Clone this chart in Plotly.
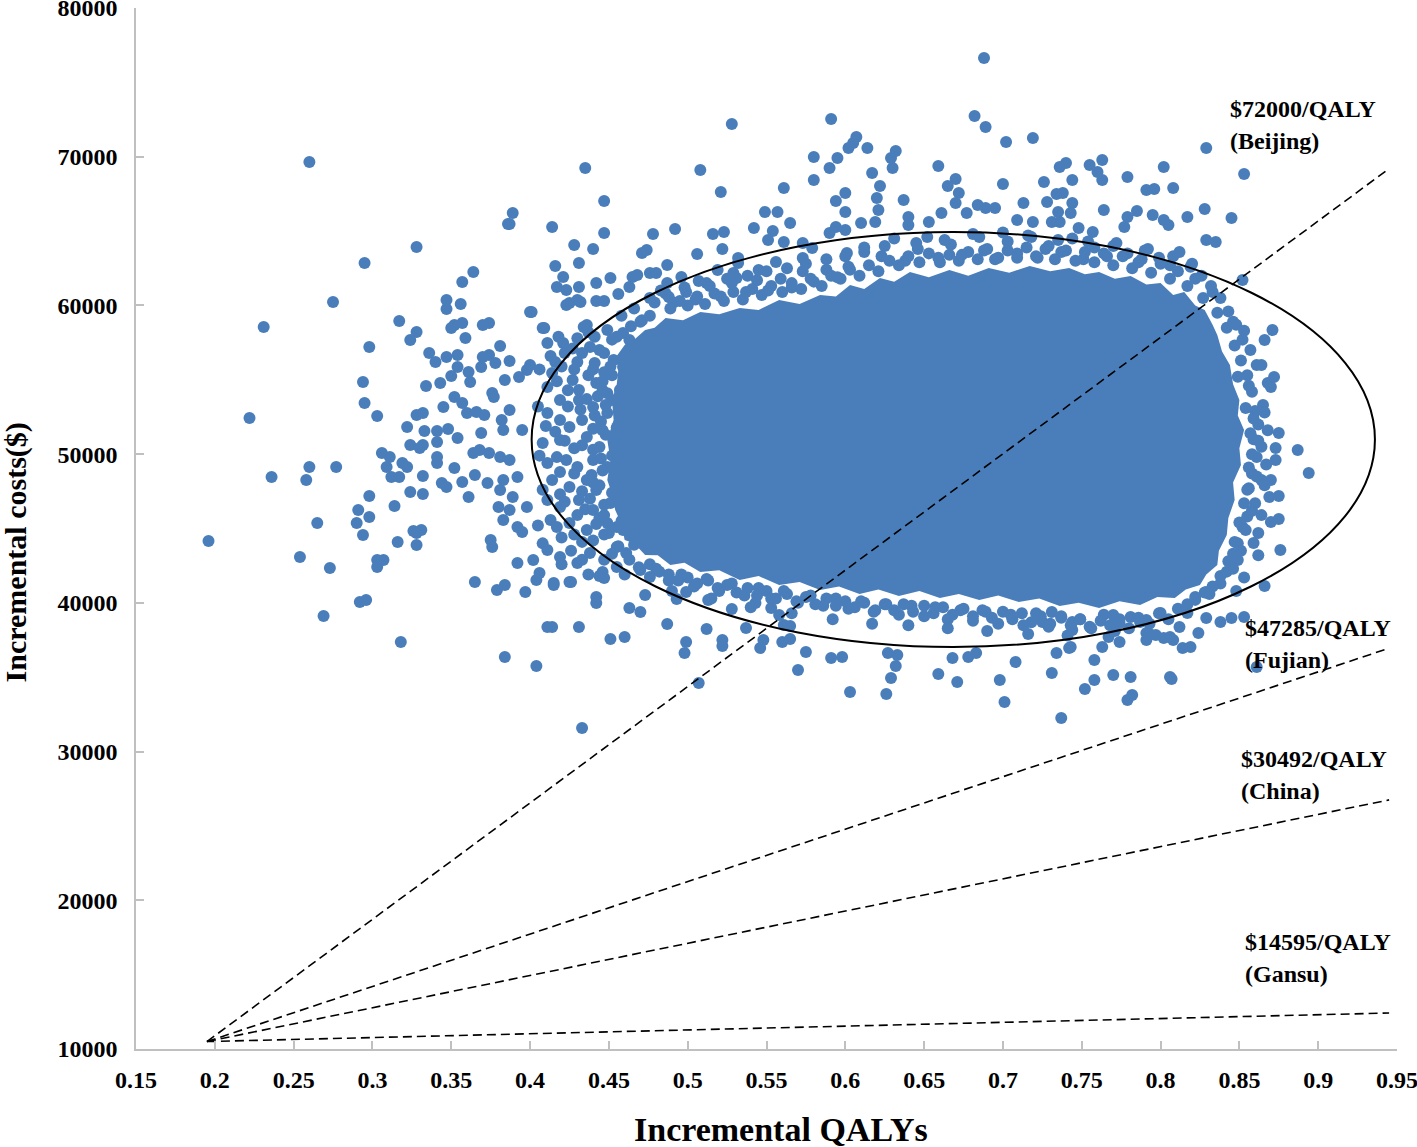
import plotly.graph_objects as go

# Incremental cost-effectiveness plane
# (qaly, cost) pairs, grouped by where they sit around the dense cloud

far_left_pts = [
    (0.260, 69650), (0.231, 58550), (0.222, 52430), (0.236, 48460), (0.196, 44160),
    (0.254, 43080), (0.260, 49130), (0.258, 48260), (0.265, 45370), (0.273, 42340),
    (0.269, 39120), (0.275, 60230), (0.277, 49130), (0.295, 62850), (0.294, 54850),
    (0.295, 53440), (0.298, 57200), (0.291, 46240), (0.290, 45370), (0.298, 47180),
    (0.298, 45770), (0.294, 44560), (0.292, 40060), (0.296, 40190), (0.303, 52560),
    (0.303, 42880), (0.307, 42880), (0.303, 42410), (0.306, 50080), (0.311, 49810),
    (0.309, 49130), (0.312, 48460), (0.314, 46510), (0.317, 58950), (0.318, 37370),
    (0.316, 44090), (0.319, 49400), (0.322, 49130), (0.317, 48460), (0.324, 47450),
]

left_pts = [
    (0.387, 65470), (0.328, 63930), (0.364, 62250), (0.357, 61570), (0.347, 60360),
    (0.347, 59760), (0.356, 60090), (0.352, 58680), (0.357, 58820), (0.350, 58480),
    (0.328, 58210), (0.324, 57670), (0.359, 57810), (0.370, 58680), (0.374, 58820),
    (0.400, 59560), (0.408, 58480), (0.381, 57270), (0.336, 56800), (0.340, 56190),
    (0.347, 56530), (0.354, 56670), (0.354, 55860), (0.370, 56530), (0.374, 56670),
    (0.369, 55860), (0.378, 56130), (0.387, 56260), (0.361, 55520), (0.362, 54850),
    (0.350, 55250), (0.343, 54780), (0.334, 54580), (0.376, 54110), (0.377, 53840),
    (0.384, 54980), (0.398, 55660), (0.400, 55990), (0.393, 55190), (0.328, 52630),
    (0.332, 52760), (0.345, 53170), (0.352, 53840), (0.357, 53440), (0.360, 52760),
    (0.366, 52830), (0.371, 52630), (0.322, 51820), (0.333, 51550), (0.341, 51550),
    (0.348, 51690), (0.354, 51080), (0.369, 51420), (0.382, 52290), (0.387, 52970),
    (0.395, 51620), (0.383, 51620), (0.324, 50610), (0.330, 50410), (0.332, 50610),
    (0.341, 50820), (0.341, 49810), (0.341, 49400), (0.332, 48530), (0.352, 49070),
    (0.364, 50080), (0.368, 50280), (0.374, 50080), (0.381, 49810), (0.387, 49600),
    (0.344, 48060), (0.347, 47790), (0.357, 48130), (0.365, 48600), (0.373, 48060),
    (0.383, 48260), (0.392, 48460), (0.381, 47590), (0.389, 47120), (0.332, 47320),
    (0.361, 47120), (0.380, 46440), (0.387, 46240), (0.398, 46440), (0.383, 45570),
    (0.392, 45100), (0.395, 44760), (0.328, 44700), (0.326, 44830), (0.331, 44900),
    (0.328, 43890), (0.375, 44230), (0.376, 43760), (0.392, 42680), (0.402, 42880),
    (0.406, 42010), (0.404, 41540), (0.365, 41400), (0.379, 40860), (0.384, 41200),
    (0.397, 40730), (0.411, 38380), (0.384, 36360), (0.404, 35750), (0.433, 31580),
]

left_band_pts = [
    (0.425, 60160), (0.432, 60230), (0.409, 58480), (0.434, 58550), (0.411, 57470),
    (0.421, 57470), (0.422, 56800), (0.433, 56800), (0.438, 57200), (0.444, 57000),
    (0.449, 58350), (0.459, 58140), (0.463, 57670), (0.441, 56130), (0.453, 56330),
    (0.459, 55860), (0.414, 55460), (0.411, 54510), (0.427, 54980), (0.431, 54310),
    (0.442, 54780), (0.419, 53640), (0.431, 53640), (0.440, 53170), (0.452, 53640),
    (0.457, 54310), (0.411, 52760), (0.419, 52290), (0.425, 51820), (0.433, 52290),
    (0.449, 52760), (0.461, 52500), (0.408, 50750), (0.419, 50950), (0.436, 51150),
    (0.444, 50480), (0.455, 50950), (0.465, 51420), (0.411, 49400), (0.423, 49600),
    (0.430, 49130), (0.440, 49600), (0.449, 49130), (0.461, 49810), (0.414, 48260),
    (0.425, 47790), (0.436, 48260), (0.442, 47590), (0.455, 48260), (0.465, 47790),
    (0.411, 46920), (0.419, 46440), (0.431, 46920), (0.440, 46240), (0.451, 46710),
    (0.461, 46040), (0.413, 45570), (0.425, 45370), (0.436, 44900), (0.449, 45370),
    (0.459, 44900), (0.468, 45570), (0.411, 43550), (0.419, 43080), (0.430, 42680),
    (0.438, 43350), (0.455, 43750), (0.461, 43350), (0.470, 44230), (0.415, 41330),
    (0.425, 41400), (0.446, 42070), (0.455, 42410), (0.470, 42210), (0.476, 41740),
    (0.442, 40390), (0.416, 56200), (0.428, 55700), (0.437, 55300), (0.446, 54300),
    (0.424, 53200), (0.445, 52200), (0.416, 51500), (0.428, 50400), (0.440, 51700),
    (0.452, 49900), (0.419, 48800), (0.433, 47500), (0.446, 48900), (0.419, 47300),
    (0.430, 45900), (0.444, 45700), (0.455, 45100), (0.420, 44400), (0.433, 44100),
    (0.447, 44600), (0.426, 43500), (0.447, 42900), (0.437, 41900), (0.460, 41900),
    (0.455, 57900), (0.437, 58200), (0.427, 57100), (0.447, 55500), (0.432, 53000),
    (0.455, 51800), (0.405, 53200), (0.417, 54900), (0.424, 54300), (0.436, 53700),
    (0.449, 54100), (0.410, 51900), (0.422, 50900), (0.433, 50600), (0.448, 51300),
    (0.458, 50300), (0.406, 49900), (0.417, 49800), (0.428, 48700), (0.440, 48100),
    (0.452, 47400), (0.408, 47600), (0.422, 46800), (0.435, 46300), (0.447, 45900),
    (0.458, 45500), (0.405, 45200), (0.417, 45100), (0.428, 44600), (0.440, 44200),
    (0.452, 43300), (0.408, 44000), (0.420, 42600), (0.433, 42900), (0.444, 41800),
    (0.466, 43900), (0.418, 57900), (0.430, 57800), (0.441, 57900), (0.413, 56600),
    (0.430, 56200), (0.440, 55700), (0.452, 55300), (0.420, 55900), (0.406, 55700),
    (0.458, 53000),
]

top_pts = [
    (0.528, 72200), (0.591, 72530), (0.435, 69240), (0.508, 69100), (0.521, 67620),
    (0.580, 69980), (0.590, 69240), (0.595, 69910), (0.602, 70580), (0.607, 71320),
    (0.605, 70920), (0.614, 70580), (0.580, 68430), (0.617, 68900), (0.561, 67890),
    (0.594, 67020), (0.600, 67560), (0.600, 66280), (0.389, 66210), (0.386, 65470),
    (0.447, 67020), (0.414, 65270), (0.447, 64870), (0.428, 64060), (0.440, 63790),
    (0.431, 62850), (0.478, 64800), (0.492, 65140), (0.516, 64800), (0.523, 64940),
    (0.522, 63790), (0.549, 66280), (0.557, 66280), (0.542, 65200), (0.554, 65000),
    (0.551, 64400), (0.565, 65540), (0.561, 64260), (0.506, 63460), (0.471, 63520),
    (0.474, 63720), (0.487, 62720), (0.532, 63190), (0.532, 62850), (0.556, 62920),
    (0.573, 64200), (0.579, 63860), (0.573, 63190), (0.590, 64870), (0.594, 65270),
    (0.600, 65070), (0.601, 63520), (0.610, 65540), (0.416, 62650), (0.421, 61910),
    (0.417, 61240), (0.423, 61040), (0.431, 61240), (0.430, 60360), (0.423, 60030),
    (0.401, 59560), (0.436, 58680), (0.442, 61510), (0.451, 61840), (0.456, 60770),
    (0.442, 60300), (0.447, 60300), (0.465, 61910), (0.468, 62050), (0.463, 61240),
    (0.476, 62180), (0.480, 62180), (0.487, 61510), (0.488, 60570), (0.496, 61910),
    (0.507, 61640), (0.545, 62380), (0.529, 62180), (0.531, 61840), (0.519, 62380),
    (0.688, 76640), (0.682, 72740), (0.689, 72000), (0.702, 70990), (0.719, 71260),
    (0.829, 70580), (0.853, 68840), (0.632, 70380), (0.629, 69910), (0.630, 69240),
    (0.622, 68030), (0.620, 67220), (0.621, 66410), (0.619, 65610), (0.637, 67090),
    (0.659, 69370), (0.670, 68500), (0.665, 68030), (0.672, 67560), (0.670, 66890),
    (0.677, 66210), (0.640, 65940), (0.640, 65410), (0.653, 65610), (0.661, 66210),
    (0.700, 68160), (0.684, 66750), (0.689, 66550), (0.695, 66550), (0.713, 66890),
    (0.709, 65740), (0.719, 65610), (0.726, 68300), (0.728, 66950), (0.734, 67490),
    (0.738, 67560), (0.744, 68430), (0.744, 66890), (0.743, 66210), (0.735, 66280),
    (0.731, 65610), (0.736, 65610), (0.736, 69310), (0.740, 69580), (0.755, 69440),
    (0.760, 68970), (0.763, 69780), (0.763, 68430), (0.779, 68630), (0.802, 69310),
    (0.791, 67760), (0.796, 67830), (0.808, 67890), (0.764, 66410), (0.757, 64940),
    (0.748, 65200), (0.785, 66350), (0.779, 65940), (0.777, 65270), (0.795, 66080),
    (0.802, 65740), (0.805, 65410), (0.817, 65940), (0.828, 66480), (0.845, 65880),
    (0.829, 64400), (0.835, 64260), (0.852, 61710),
]

top_band_pts = [
    (0.612, 63900), (0.623, 63300), (0.631, 64500), (0.638, 63000), (0.646, 63800),
    (0.652, 64600), (0.659, 63200), (0.667, 64100), (0.674, 63400), (0.681, 64800),
    (0.688, 63700), (0.695, 63100), (0.703, 64300), (0.709, 63500), (0.716, 64700),
    (0.722, 63200), (0.729, 64000), (0.737, 63600), (0.744, 64500), (0.751, 63100),
    (0.758, 63900), (0.766, 63300), (0.772, 64200), (0.779, 63500), (0.786, 62900),
    (0.792, 63800), (0.799, 63200), (0.806, 62700), (0.812, 63600), (0.819, 62600),
    (0.826, 62000), (0.832, 61300), (0.838, 60500), (0.843, 59600), (0.848, 58700),
    (0.852, 57700), (0.476, 60500), (0.483, 61000), (0.491, 60200), (0.499, 60900),
    (0.505, 60400), (0.514, 61300), (0.521, 60600), (0.528, 61500), (0.537, 60900),
    (0.544, 61700), (0.551, 61000), (0.559, 61800), (0.566, 61200), (0.573, 62300),
    (0.580, 61600), (0.588, 62400), (0.595, 61900), (0.602, 62600), (0.466, 59800),
    (0.458, 59300), (0.471, 59000),
]

top_ring_pts = [
    (0.470, 58900), (0.476, 59300), (0.479, 60200), (0.489, 59800), (0.495, 60300),
    (0.500, 60000), (0.506, 60600), (0.511, 60100), (0.517, 60800), (0.523, 60300),
    (0.529, 60900), (0.535, 60400), (0.541, 61100), (0.547, 60700), (0.553, 61300),
    (0.560, 60900), (0.566, 61500), (0.572, 61100), (0.578, 61800), (0.585, 61300),
    (0.591, 62000), (0.597, 61800), (0.603, 62400), (0.609, 62000), (0.615, 62700),
    (0.621, 62300), (0.628, 63000), (0.634, 62700), (0.640, 63300), (0.647, 62900),
    (0.653, 63500), (0.660, 62900), (0.666, 63400), (0.672, 63000), (0.678, 63600),
    (0.684, 63100), (0.690, 63800), (0.697, 63200), (0.703, 63700), (0.709, 63200),
    (0.715, 63900), (0.721, 63300), (0.727, 63800), (0.733, 63100), (0.740, 63700),
    (0.746, 63000), (0.752, 63600), (0.758, 62900), (0.764, 63500), (0.770, 62700),
    (0.776, 63300), (0.782, 62500), (0.788, 63100), (0.794, 62200), (0.800, 62800),
    (0.806, 61800), (0.811, 62300), (0.817, 61300), (0.822, 61800), (0.827, 60500),
    (0.833, 60900), (0.836, 59500), (0.486, 60800), (0.498, 61200), (0.512, 61500),
    (0.525, 61800), (0.538, 62000), (0.550, 62300), (0.563, 62500), (0.575, 62800),
    (0.588, 63100), (0.600, 63300), (0.612, 63600), (0.625, 64000), (0.645, 64200),
    (0.663, 64400), (0.685, 64600), (0.700, 64900), (0.718, 64600), (0.735, 64400),
    (0.754, 64300), (0.770, 64000), (0.790, 63700), (0.808, 63300), (0.820, 62800),
]

right_pts = [
    (0.871, 58350), (0.866, 57670), (0.861, 55990), (0.864, 55990), (0.872, 55180),
    (0.868, 54780), (0.870, 54510), (0.865, 53300), (0.875, 51420), (0.873, 50410),
    (0.887, 50280), (0.894, 48730), (0.873, 49600), (0.870, 48260), (0.864, 48260),
    (0.875, 47180), (0.869, 47120), (0.875, 45640), (0.870, 45440), (0.876, 43550),
    (0.862, 44700), (0.859, 44020), (0.866, 41130), (0.849, 42880), (0.846, 58900),
    (0.853, 58300), (0.857, 57000), (0.855, 55300), (0.858, 54200), (0.860, 52900),
    (0.862, 52000), (0.859, 51000), (0.864, 50500), (0.861, 49800), (0.858, 48700),
    (0.856, 47700), (0.860, 46700), (0.855, 45800), (0.852, 45100), (0.849, 44000),
    (0.846, 43300), (0.842, 42100), (0.838, 41300), (0.831, 40600), (0.822, 40200),
    (0.853, 41700), (0.848, 40800), (0.842, 58500), (0.847, 57300), (0.851, 56300),
    (0.849, 55200), (0.856, 54600), (0.854, 53100), (0.859, 52400), (0.857, 51400),
    (0.862, 50900), (0.858, 50000), (0.856, 49100), (0.861, 48500), (0.855, 47600),
    (0.853, 46700), (0.858, 46200), (0.850, 45400), (0.854, 44900), (0.847, 44100),
    (0.851, 43500), (0.843, 42800), (0.846, 42300), (0.838, 41800), (0.833, 41100),
    (0.828, 40700), (0.866, 52800), (0.868, 51600), (0.867, 49300), (0.866, 47900),
    (0.864, 45900), (0.862, 43200),
]

bottom_pts = [
    (0.829, 38980), (0.838, 38710), (0.845, 38980), (0.824, 37970), (0.814, 36960),
    (0.819, 37030), (0.806, 35010), (0.861, 35690), (0.770, 35150), (0.781, 35010),
    (0.782, 33800), (0.763, 37030), (0.791, 37970), (0.802, 37640), (0.414, 38380),
    (0.431, 38380), (0.451, 37570), (0.460, 37700), (0.487, 38580), (0.499, 37370),
    (0.498, 36630), (0.512, 38240), (0.522, 37500), (0.522, 37100), (0.507, 34610),
    (0.537, 38310), (0.546, 36960), (0.548, 37500), (0.560, 37370), (0.565, 37570),
    (0.575, 36700), (0.570, 35480), (0.591, 36290), (0.598, 36360), (0.603, 34000),
    (0.626, 33870), (0.629, 34950), (0.627, 36630), (0.633, 36490), (0.632, 35750),
    (0.659, 35220), (0.671, 34680), (0.668, 36290), (0.678, 36360), (0.683, 36630),
    (0.698, 34810), (0.701, 33330), (0.708, 36020), (0.731, 35280), (0.737, 32260),
    (0.734, 36630), (0.743, 37030), (0.752, 34210), (0.758, 34810), (0.758, 36160),
    (0.774, 37370), (0.779, 33470), (0.415, 41200), (0.426, 41400), (0.442, 39990),
    (0.463, 39650), (0.470, 39380), (0.447, 41670), (0.473, 40530), (0.493, 40260),
    (0.499, 40730), (0.513, 40190), (0.528, 39590), (0.543, 39990), (0.553, 39650),
    (0.558, 39180), (0.561, 38510), (0.565, 38440), (0.742, 36960), (0.807, 34880),
    (0.791, 37500), (0.797, 37840), (0.806, 37700), (0.808, 37500), (0.812, 38380),
    (0.853, 39050), (0.829, 40730), (0.817, 39320), (0.770, 39180), (0.774, 38640),
    (0.781, 39050), (0.787, 38710), (0.791, 38850), (0.800, 39320), (0.744, 38170),
    (0.744, 38710), (0.725, 38710), (0.731, 39380),
]

bottom_ring_pts = [
    (0.476, 42600), (0.482, 42100), (0.488, 41900), (0.494, 41500), (0.500, 41700),
    (0.506, 41300), (0.513, 41500), (0.519, 41000), (0.525, 41200), (0.531, 40700),
    (0.538, 41000), (0.544, 40500), (0.550, 40800), (0.556, 40300), (0.563, 40600),
    (0.569, 40100), (0.575, 40400), (0.581, 39900), (0.588, 40300), (0.594, 39800),
    (0.600, 40100), (0.606, 39700), (0.612, 40000), (0.619, 39500), (0.625, 39900),
    (0.631, 39500), (0.637, 39900), (0.643, 39400), (0.650, 39800), (0.656, 39300),
    (0.662, 39700), (0.668, 39200), (0.675, 39600), (0.681, 39100), (0.687, 39500),
    (0.693, 39000), (0.700, 39400), (0.706, 38900), (0.712, 39300), (0.718, 38700),
    (0.724, 39100), (0.730, 38600), (0.737, 39000), (0.743, 38500), (0.749, 38900),
    (0.755, 38400), (0.762, 38800), (0.768, 38500), (0.774, 38900), (0.780, 38300),
    (0.786, 39000), (0.793, 38600), (0.799, 39300), (0.805, 38900), (0.811, 39600),
    (0.817, 39900), (0.822, 40400), (0.490, 40800), (0.515, 40300), (0.540, 39700),
    (0.566, 39300), (0.592, 38900), (0.617, 38600), (0.640, 38500), (0.665, 38300),
    (0.690, 38100), (0.716, 37900), (0.741, 37800), (0.767, 37700), (0.793, 37900),
    (0.447, 56800), (0.451, 55900), (0.446, 54900), (0.443, 53900), (0.448, 53300),
    (0.441, 52600), (0.446, 51600), (0.440, 50300), (0.445, 49700), (0.439, 48600),
    (0.444, 47900), (0.438, 47000), (0.447, 46600), (0.442, 45300), (0.450, 44700),
    (0.456, 43800), (0.463, 42900), (0.469, 42400), (0.452, 57700), (0.464, 58600),
]

bottom_band_pts = [
    (0.480, 42300), (0.488, 41500), (0.496, 41900), (0.504, 41100), (0.512, 41600),
    (0.520, 40800), (0.528, 41300), (0.536, 40500), (0.545, 41000), (0.553, 40300),
    (0.561, 40800), (0.570, 40000), (0.578, 40500), (0.586, 39800), (0.594, 40300),
    (0.602, 39600), (0.610, 40100), (0.618, 39400), (0.626, 39900), (0.634, 39200),
    (0.642, 39800), (0.650, 39100), (0.657, 39700), (0.665, 38900), (0.673, 39500),
    (0.681, 38800), (0.689, 39400), (0.697, 38600), (0.705, 39200), (0.713, 38500),
    (0.721, 39300), (0.729, 38400), (0.737, 39100), (0.749, 38900), (0.756, 38300),
    (0.764, 39200), (0.771, 38100),
]

# outline of the solid part of the cloud, where the dots merge completely
core_qaly = [0.456, 0.455, 0.460, 0.466, 0.473, 0.479, 0.486, 0.497, 0.508, 0.520,
             0.533, 0.545, 0.558, 0.571, 0.584, 0.594, 0.603, 0.612, 0.622, 0.631,
             0.641, 0.653, 0.666, 0.678, 0.691, 0.704, 0.717, 0.730, 0.742, 0.752,
             0.761, 0.771, 0.781, 0.791, 0.800, 0.808, 0.815, 0.822, 0.828, 0.833,
             0.836, 0.839, 0.844, 0.846, 0.850, 0.849, 0.853, 0.850, 0.851, 0.846,
             0.847, 0.843, 0.842, 0.837, 0.836, 0.829, 0.825, 0.816, 0.809, 0.798,
             0.787, 0.774, 0.761, 0.748, 0.736, 0.723, 0.710, 0.697, 0.685, 0.672,
             0.660, 0.647, 0.634, 0.621, 0.609, 0.596, 0.584, 0.571, 0.558, 0.545,
             0.533, 0.520, 0.508, 0.498, 0.489, 0.481, 0.473, 0.466, 0.460, 0.458,
             0.454, 0.452, 0.449, 0.451, 0.449, 0.453, 0.452, 0.455]
core_cost = [55660, 56600, 57340, 57700, 58350, 58500, 59150, 59000, 59560, 59400,
             59820, 59700, 60360, 60100, 60700, 60600, 61370, 61100, 61840, 61600,
             62250, 61900, 62380, 62000, 62510, 62200, 62650, 62300, 62510, 62100,
             62250, 61800, 61980, 61400, 61510, 60700, 60900, 60000, 59690, 58700,
             58010, 56900, 55990, 54700, 53640, 52600, 51620, 50400, 49270, 48100,
             46920, 45700, 44560, 43500, 42540, 41900, 41200, 40900, 40330, 40400,
             39850, 40100, 39650, 40000, 39790, 40300, 40060, 40500, 40190, 40600,
             40330, 40800, 40460, 40900, 40590, 41100, 40860, 41400, 41200, 41800,
             41540, 42200, 42070, 42700, 42540, 43200, 43220, 44000, 44230, 45300,
             46240, 47300, 48260, 49600, 50950, 52300, 53640, 54700]

# 95% confidence ellipse
ellipse_qaly = [0.401, 0.936]
ellipse_cost = [37030, 64940]

# willingness-to-pay thresholds
wtp_names = ["$72000/QALY", "$47285/QALY", "$30492/QALY", "$14595/QALY"]
wtp_regions = ["(Beijing)", "(Fujian)", "(China)", "(Gansu)"]
wtp_start = (0.195, 10500)
wtp_end_qaly = 0.945
wtp_end_cost = [69200, 36950, 26750, 12420]

qaly_ticks = [0.15, 0.2, 0.25, 0.3, 0.35, 0.4, 0.45, 0.5, 0.55, 0.6, 0.65, 0.7,
              0.75, 0.8, 0.85, 0.9, 0.95]
qaly_tick_text = ["0.15", "0.2", "0.25", "0.3", "0.35", "0.4", "0.45", "0.5", "0.55",
                  "0.6", "0.65", "0.7", "0.75", "0.8", "0.85", "0.9", "0.95"]
cost_ticks = [10000, 20000, 30000, 40000, 50000, 60000, 70000, 80000]
cost_tick_text = ["10000", "20000", "30000", "40000", "50000", "60000", "70000", "80000"]

BLUE = "#4a7ebb"
FONT = "Liberation Serif"

all_pts = (far_left_pts + left_pts + left_band_pts + top_pts + top_band_pts
           + top_ring_pts + right_pts + bottom_pts + bottom_ring_pts + bottom_band_pts)
qaly = [p[0] for p in all_pts]
cost = [p[1] for p in all_pts]

fig = go.Figure()

fig.add_trace(go.Scatter(
    x=core_qaly, y=core_cost, mode="none",
    fill="toself", fillcolor=BLUE, hoverinfo="skip"
))

fig.add_trace(go.Scatter(
    x=qaly, y=cost, mode="markers",
    marker=dict(size=12, color=BLUE, line=dict(width=0))
))

for end_cost in wtp_end_cost:
    fig.add_trace(go.Scatter(
        x=[wtp_start[0], wtp_end_qaly], y=[wtp_start[1], end_cost],
        mode="lines", line=dict(color="black", width=1.6, dash="9px,5px"),
        hoverinfo="skip"
    ))

fig.add_shape(
    type="circle", xref="x", yref="y",
    x0=ellipse_qaly[0], x1=ellipse_qaly[1], y0=ellipse_cost[0], y1=ellipse_cost[1],
    line=dict(color="black", width=2), layer="above"
)

# label placement (qaly of left edge, cost of first line, cost of second line)
label_pos = [(0.843, 73200, 71050), (0.852, 38300, 36150),
             (0.850, 29500, 27350), (0.852, 17200, 15050)]
for name, region, (lx, ly1, ly2) in zip(wtp_names, wtp_regions, label_pos):
    for txt, ly in ((name, ly1), (region, ly2)):
        fig.add_annotation(
            x=lx, y=ly, text=txt, showarrow=False,
            xanchor="left", yanchor="middle",
            font=dict(family=FONT, size=24, color="black", weight="bold")
        )

# axis titles as free annotations so they sit where the original has them
fig.add_annotation(
    xref="paper", yref="paper", x=-0.0952, y=0.477, text="Incremental costs($)",
    textangle=-90, showarrow=False, xanchor="center", yanchor="middle",
    font=dict(family=FONT, size=30, color="black", weight="bold")
)
fig.add_annotation(
    xref="paper", yref="paper", x=0.5115, y=-0.077, text="Incremental QALYs",
    showarrow=False, xanchor="center", yanchor="middle",
    font=dict(family=FONT, size=34, color="black", weight="bold")
)

axis_common = dict(
    showgrid=False, zeroline=False, showline=True, automargin=False,
    linecolor="#c0c0c0", linewidth=1.5,
    ticks="inside", ticklen=8, tickcolor="#c0c0c0", tickwidth=1.5,
    tickfont=dict(family=FONT, size=24, color="black", weight="bold"),
    ticklabeloverflow="allow",
)

fig.update_layout(
    width=1417, height=1147,
    margin=dict(l=136, r=20, t=8, b=98),
    paper_bgcolor="white", plot_bgcolor="white",
    showlegend=False,
    xaxis=dict(
        range=[0.15, 0.95], tickvals=qaly_ticks, ticktext=qaly_tick_text,
        ticklabelstandoff=8, **axis_common
    ),
    yaxis=dict(
        range=[10000, 80000], tickvals=cost_ticks, ticktext=cost_tick_text,
        ticklabelstandoff=12, **axis_common
    ),
)

# the page's default 8px body margin would shift the whole chart
fig.write_html(
    "out.html",
    config={"displayModeBar": False},
    post_script="document.body.style.margin = '0';",
)
